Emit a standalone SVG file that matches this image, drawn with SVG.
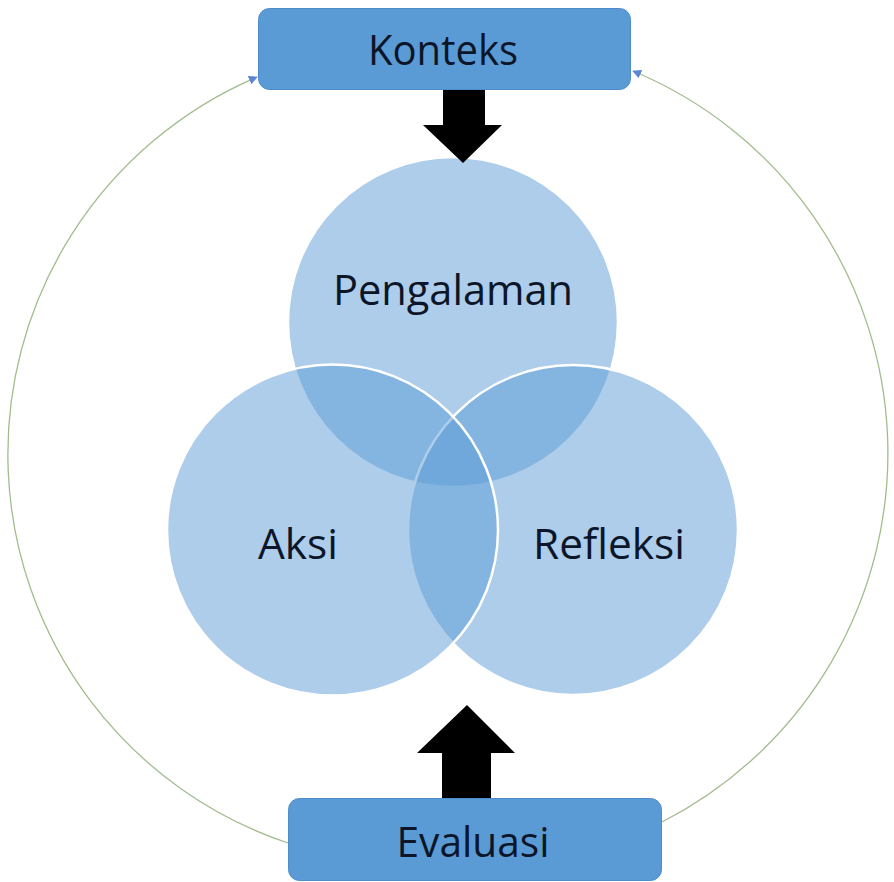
<svg xmlns="http://www.w3.org/2000/svg" width="894" height="882" viewBox="0 0 894 882">
<defs>
<style>
.box{fill:#5b9bd5;stroke:#4f8cc9;stroke-width:1}
.lbl{font-family:"Open Sans","Noto Sans",sans-serif;font-size:42px;fill:#0c1628;text-anchor:middle}
.circ{fill:#5b9bd5;fill-opacity:0.5;stroke:#ffffff;stroke-width:2.5}
.loop{fill:none;stroke:#a3bc8e;stroke-width:1.3}
.big{fill:#000000}
</style>
<marker id="ah" viewBox="0 0 10 10" refX="9" refY="5" markerWidth="9" markerHeight="9" markerUnits="userSpaceOnUse" orient="auto">
<path d="M0,0 L10,5 L0,10 z" fill="#5a86d6"/>
</marker>
</defs>
<rect width="894" height="882" fill="#ffffff"/>
<g id="pengalaman">
<circle class="circ" cx="453" cy="322" r="165"/>
</g>
<g id="refleksi">
<circle class="circ" cx="573" cy="530" r="165"/>
</g>
<g id="aksi">
<circle class="circ" cx="332.5" cy="530" r="165.5"/>
</g>
<g id="labels">
<text class="lbl" x="453" y="305" textLength="240" lengthAdjust="spacingAndGlyphs">Pengalaman</text>
<text class="lbl" x="298" y="559" textLength="80" lengthAdjust="spacingAndGlyphs">Aksi</text>
<text class="lbl" x="609" y="559" textLength="152" lengthAdjust="spacingAndGlyphs">Refleksi</text>
</g>
<g id="connectors">
<path class="loop" d="M288,843 A410 410 0 0 1 257,77" marker-end="url(#ah)"/>
<path class="loop" d="M662,822 A414 414 0 0 0 633,71" marker-end="url(#ah)"/>
<path class="big" d="M443,89 L485,89 L485,125 L502,125 L463,163 L423,125 L443,125 z"/>
<path class="big" d="M442,798 L491,798 L491,753 L515,753 L467,705 L417,753 L442,753 z"/>
</g>
<g id="konteks">
<rect class="box" x="258.5" y="8.5" width="372" height="81" rx="11"/>
<text class="lbl" x="443" y="65" textLength="150" lengthAdjust="spacingAndGlyphs">Konteks</text>
</g>
<g id="evaluasi">
<rect class="box" x="288.5" y="798.5" width="373" height="82" rx="11"/>
<text class="lbl" x="473" y="857" textLength="153" lengthAdjust="spacingAndGlyphs">Evaluasi</text>
</g>
</svg>
